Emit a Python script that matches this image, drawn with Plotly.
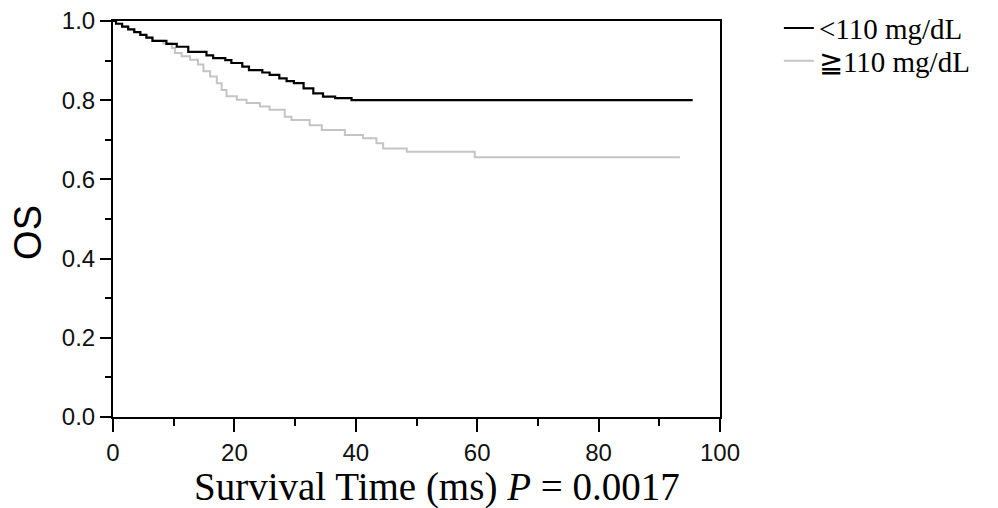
import plotly.graph_objects as go

# Kaplan-Meier step data (time in months, survival probability)
low_time = [0, 0.5, 1.5, 2.5, 3.5, 4.5, 5.5, 6.5, 8.8, 10.5, 12.4, 15.4, 16.5, 18.5, 19.5,
            21.3, 22.4, 24.6, 25.8, 27.4, 28.6, 29.8, 31.4, 33.0, 34.6, 36.6, 39.3, 95.5]
low_surv = [1.0, 0.993, 0.986, 0.979, 0.972, 0.965, 0.958, 0.950, 0.942, 0.935, 0.922, 0.913,
            0.906, 0.901, 0.894, 0.885, 0.876, 0.870, 0.864, 0.855, 0.848, 0.843, 0.830, 0.817,
            0.809, 0.805, 0.800, 0.800]

high_time = [0, 0.5, 1.5, 2.5, 3.5, 4.5, 5.5, 6.5, 8.3, 9.7, 10.2, 11.3, 12.7, 14.0, 14.9,
             16.0, 17.1, 17.9, 18.7, 20.4, 22.0, 24.2, 25.8, 28.3, 29.4, 32.4, 34.4, 38.2,
             41.2, 43.4, 44.5, 48.4, 59.6, 93.4]
high_surv = [1.0, 0.993, 0.986, 0.979, 0.972, 0.965, 0.958, 0.950, 0.943, 0.932, 0.919, 0.911,
             0.902, 0.890, 0.873, 0.860, 0.843, 0.826, 0.810, 0.801, 0.793, 0.784, 0.776, 0.758,
             0.750, 0.737, 0.725, 0.712, 0.704, 0.691, 0.678, 0.670, 0.656, 0.656]

series_names = ["<110 mg/dL", "\u2267110 mg/dL"]
x_ticks = [0, 20, 40, 60, 80, 100]
y_ticks = [0.0, 0.2, 0.4, 0.6, 0.8, 1.0]
y_tick_labels = ["0.0", "0.2", "0.4", "0.6", "0.8", "1.0"]

fig = go.Figure()
fig.add_trace(go.Scatter(x=high_time, y=high_surv, mode="lines", line_shape="hv",
                         name=series_names[1], legend="legend2",
                         line=dict(color="#c4c4c4", width=2)))
fig.add_trace(go.Scatter(x=low_time, y=low_surv, mode="lines", line_shape="hv",
                         name=series_names[0], legend="legend",
                         line=dict(color="#000000", width=2.2)))

tick_font = dict(family="Liberation Sans, Arial, sans-serif", size=24, color="#111111")
legend_font = dict(family="Liberation Serif, Times New Roman, serif", size=29, color="#000")

fig.update_layout(
    width=990, height=500,
    margin=dict(l=105, r=278, t=13, b=91, pad=0, autoexpand=False),
    paper_bgcolor="white", plot_bgcolor="white",
    showlegend=True,
    legend=dict(x=1.097, y=0.982, xanchor="left", yanchor="middle",
                font=legend_font, bgcolor="rgba(0,0,0,0)", itemwidth=30),
    legend2=dict(x=1.097, y=0.899, xanchor="left", yanchor="middle",
                 font=legend_font, bgcolor="rgba(0,0,0,0)", itemwidth=30),
    xaxis=dict(range=[0, 100], tickvals=x_ticks, ticktext=[str(v) for v in x_ticks],
               ticks="outside", ticklen=13, tickwidth=2, tickcolor="black",
               minor=dict(dtick=10, ticks="outside", ticklen=7, tickwidth=2, tickcolor="black"),
               showline=True, linecolor="black", linewidth=2, mirror=True,
               showgrid=False, zeroline=False, tickfont=tick_font,
               ticklabeloverflow="allow"),
    yaxis=dict(range=[0, 1], tickvals=y_ticks, ticktext=y_tick_labels,
               ticks="outside", ticklen=11, tickwidth=2, tickcolor="black",
               minor=dict(dtick=0.1, ticks="outside", ticklen=6, tickwidth=2, tickcolor="black"),
               showline=True, linecolor="black", linewidth=2, mirror=True,
               showgrid=False, zeroline=False, tickfont=tick_font,
               ticklabeloverflow="allow"),
    annotations=[
        dict(text="OS", x=-0.14, y=0.465, xref="paper", yref="paper", textangle=-90,
             showarrow=False, xanchor="center", yanchor="middle",
             font=dict(family="Liberation Sans, Arial, sans-serif", size=38, color="black")),
        dict(text="Survival Time (ms) <i>P</i> = 0.0017", x=0.533, y=-0.176,
             xref="paper", yref="paper", showarrow=False, xanchor="center", yanchor="middle",
             font=dict(family="Liberation Serif, Times New Roman, serif", size=39, color="black")),
    ],
)

fig.write_html("out.html")
